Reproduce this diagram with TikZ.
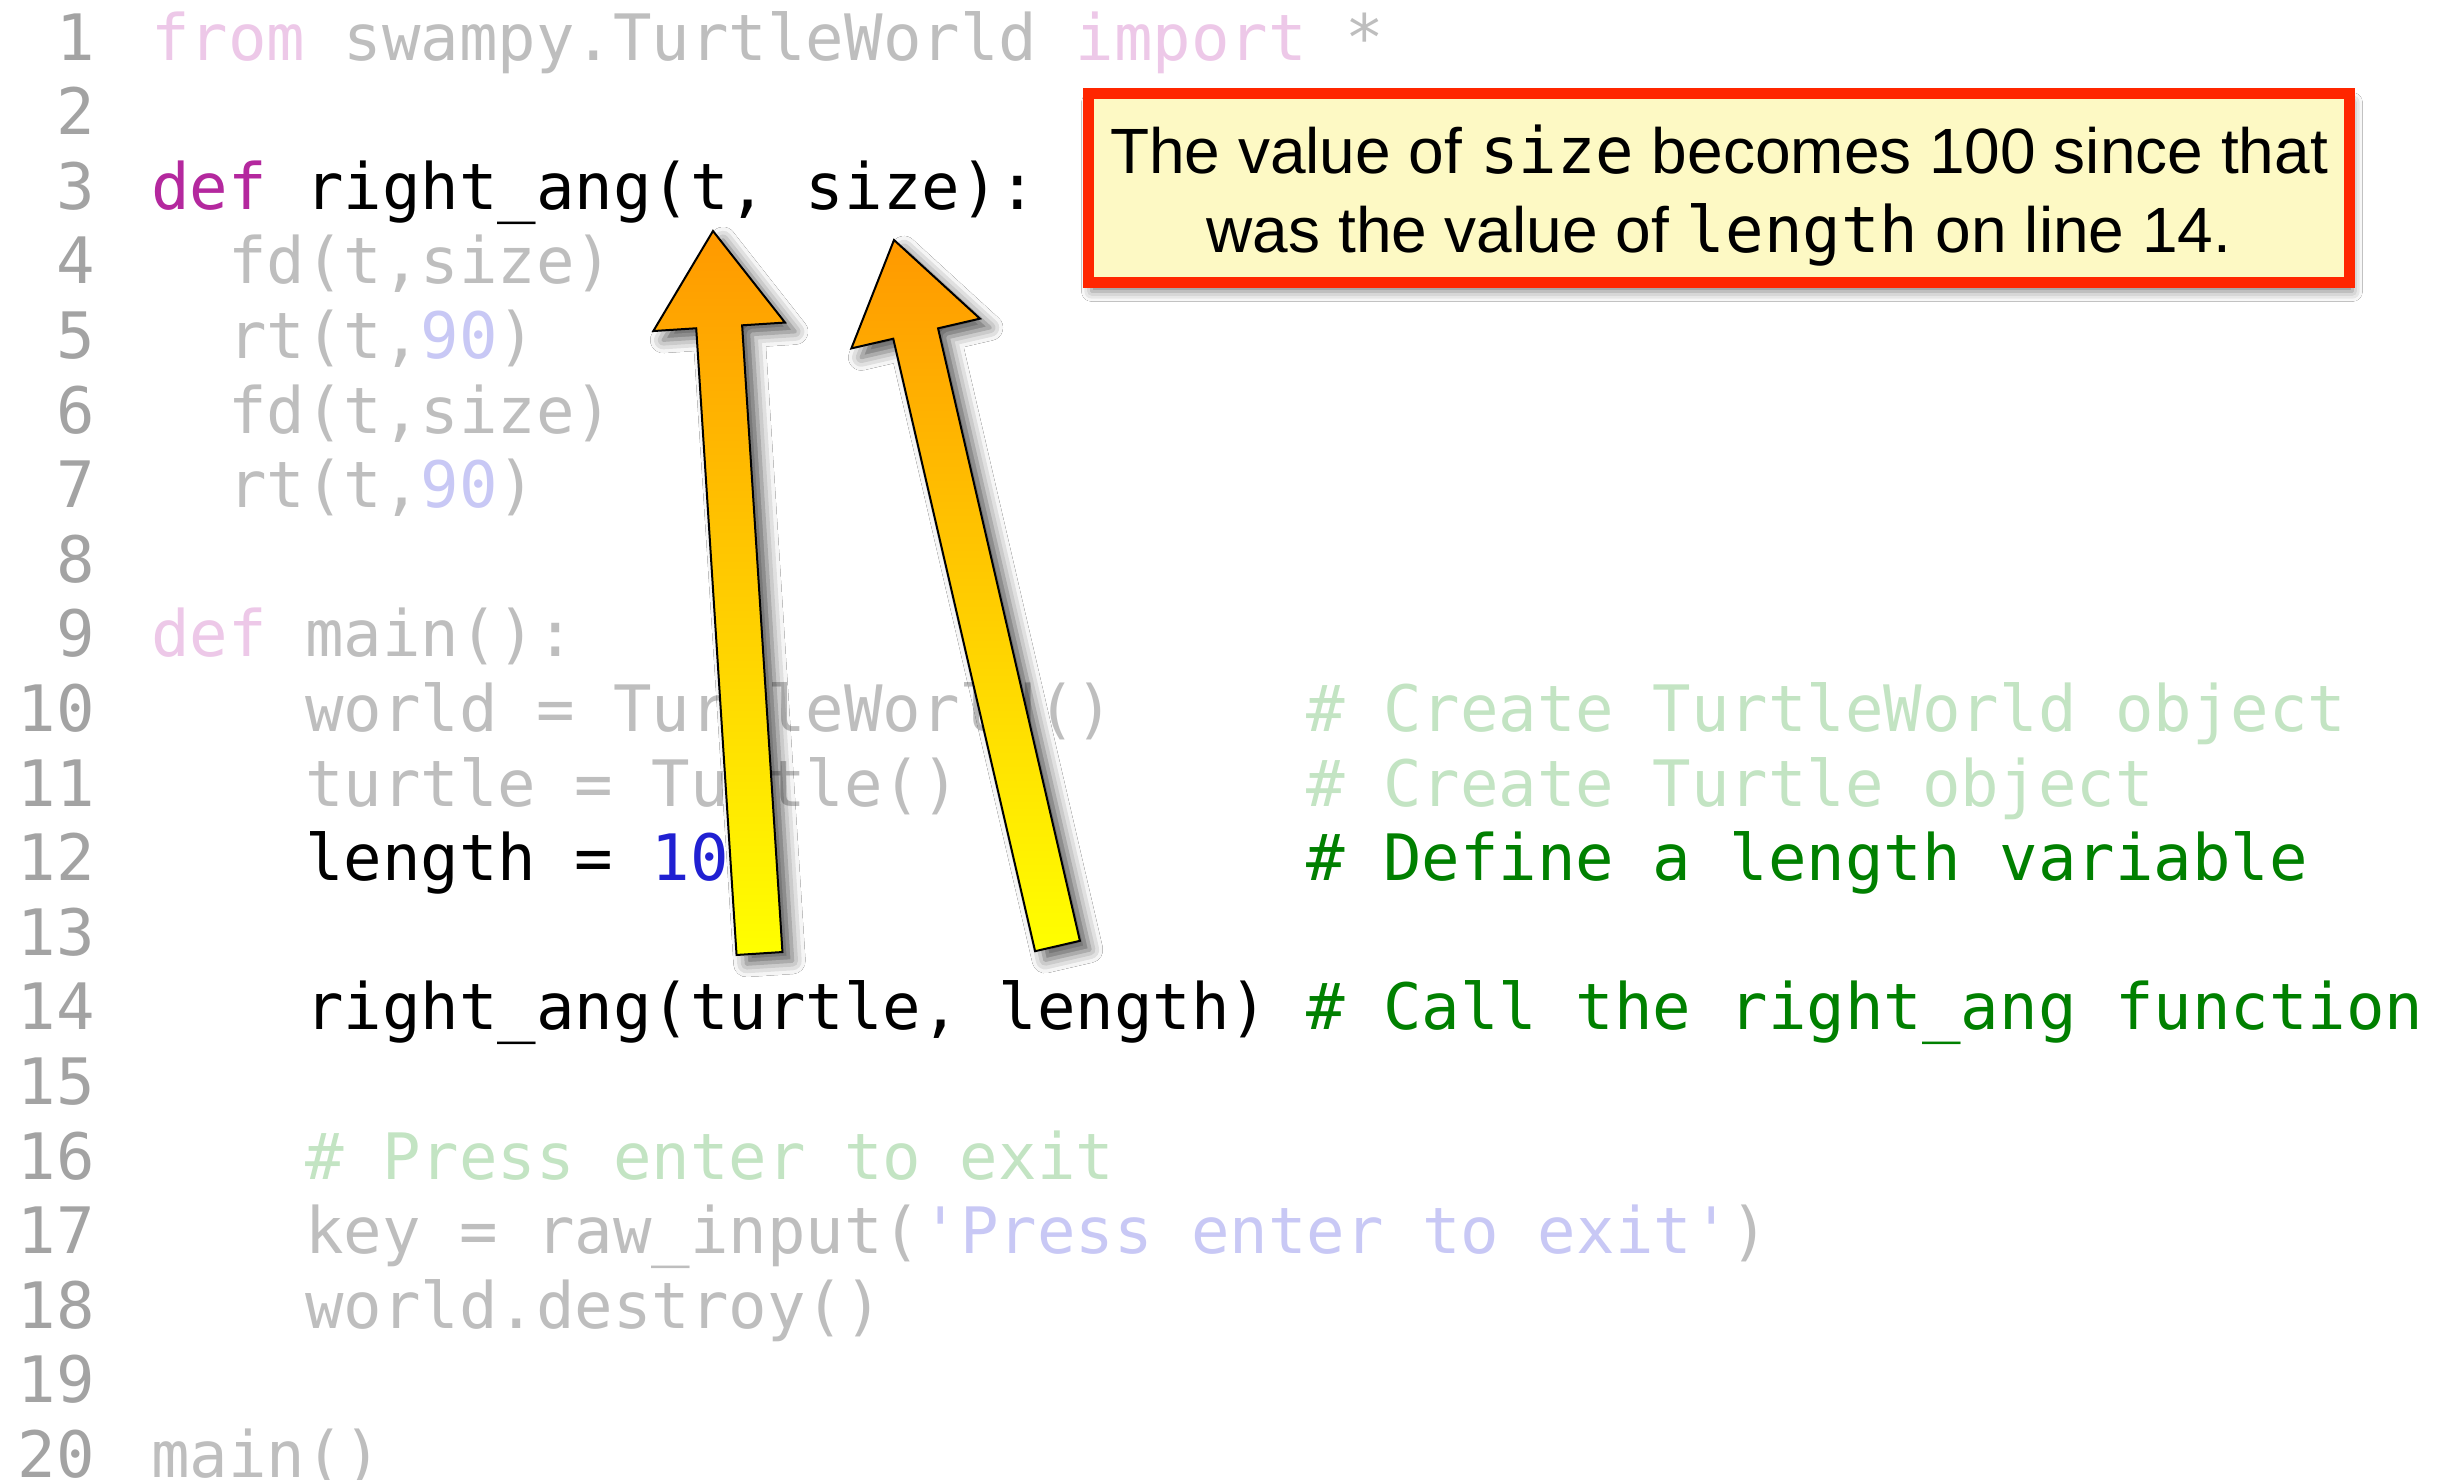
\documentclass[tikz,border=0pt]{standalone}
\usepackage{fontspec}
\setmainfont{Liberation Sans}
\newfontfamily\codefont{DejaVu Sans Mono}
\usetikzlibrary{calc,shadows.blur}
\definecolor{numgray}{HTML}{A3A3A3}
\definecolor{dimgray}{HTML}{BEBEBE}
\definecolor{pinkdim}{HTML}{EDC8E8}
\definecolor{kwmag}{HTML}{B4289E}
\definecolor{lav}{HTML}{C8C8F5}
\definecolor{numblue}{HTML}{2020D2}
\definecolor{cmtdim}{HTML}{C3E4C3}
\definecolor{cmtgreen}{HTML}{008000}
\definecolor{notered}{HTML}{FF2600}
\definecolor{notefill}{HTML}{FDF9C4}
\definecolor{arrtop}{HTML}{FF9900}
\definecolor{arrbot}{HTML}{FFFF00}
\begin{document}
\begin{tikzpicture}[x=1pt,y=-1pt,
  codeline/.style={anchor=base west, inner sep=0pt, outer sep=0pt, font={\codefont\fontsize{64}{64}\selectfont}},
  lnum/.style={anchor=base east, inner sep=0pt, outer sep=0pt, text=numgray, font={\codefont\fontsize{64}{64}\selectfont}},
  notebox/.style={draw=notered, line width=11pt, fill=notefill, minimum width=1261pt, minimum height=189pt, inner sep=0pt,
     blur shadow={shadow xshift=3pt, shadow yshift=-9pt, shadow blur radius=10pt, shadow opacity=50}},
  notetext/.style={anchor=base, inner sep=0pt, font={\fontsize{64}{64}\selectfont}},
  bigarrow/.style={draw=black, line width=2pt, line join=miter, top color=arrtop, bottom color=arrbot,
     blur shadow={shadow xshift=10pt, shadow yshift=-9pt, shadow blur radius=13pt, shadow opacity=65}}
]
\useasboundingbox[fill=white] (0,0) rectangle (2455,1480);
% line numbers
\foreach \n in {1,...,20} {
  \node[lnum] (N\n) at (95,{60+74.6*(\n-1)}) {\n};
}
% code lines (column c -> x = 151 + 38.5 c)
\node[codeline] (L1) at (151,60) {\color{pinkdim}from \color{dimgray}swampy.TurtleWorld \color{pinkdim}import \color{dimgray}*};
\node[codeline] (L3) at (151,{60+74.6*2}) {\color{kwmag}def \color{black}right\_ang(t, size):};
\node[codeline, text=dimgray] (L4) at ({151+38.5*2},{60+74.6*3}) {fd(t,size)};
\node[codeline, text=dimgray] (L5) at ({151+38.5*2},{60+74.6*4}) {rt(t,{\color{lav}90})};
\node[codeline, text=dimgray] (L6) at ({151+38.5*2},{60+74.6*5}) {fd(t,size)};
\node[codeline, text=dimgray] (L7) at ({151+38.5*2},{60+74.6*6}) {rt(t,{\color{lav}90})};
\node[codeline] (L9) at (151,{60+74.6*8}) {\color{pinkdim}def \color{dimgray}main():};
\node[codeline, text=dimgray] (L10) at ({151+38.5*4},{60+74.6*9}) {world = TurtleWorld()};
\node[codeline, text=cmtdim] (C10) at ({151+38.5*30},{60+74.6*9}) {\# Create TurtleWorld object};
\node[codeline, text=dimgray] (L11) at ({151+38.5*4},{60+74.6*10}) {turtle = Turtle()};
\node[codeline, text=cmtdim] (C11) at ({151+38.5*30},{60+74.6*10}) {\# Create Turtle object};
\node[codeline, text=black] (L12) at ({151+38.5*4},{60+74.6*11}) {length = {\color{numblue}10}};
\node[codeline, text=cmtgreen] (C12) at ({151+38.5*30},{60+74.6*11}) {\# Define a length variable};
\node[codeline, text=black] (L14) at ({151+38.5*4},{60+74.6*13}) {right\_ang(turtle, length)};
\node[codeline, text=cmtgreen] (C14) at ({151+38.5*30},{60+74.6*13}) {\# Call the right\_ang function};
\node[codeline, text=cmtdim] (L16) at ({151+38.5*4},{60+74.6*15}) {\# Press enter to exit};
\node[codeline, text=dimgray] (L17) at ({151+38.5*4},{60+74.6*16}) {key = raw\_input({\color{lav}\char"27 Press enter to exit\char"27})};
\node[codeline, text=dimgray] (L18) at ({151+38.5*4},{60+74.6*17}) {world.destroy()};
\node[codeline, text=dimgray] (L20) at (151,{60+74.6*19}) {main()};
% arrows
\coordinate (a1t) at (759.5,953.5);
\coordinate (a1h) at (713,231);
\coordinate (a2t) at (1057.5,946);
\coordinate (a2h) at (894,240);
\coordinate (a1b) at ($(a1h)!96pt!(a1t)$);
\coordinate (a2b) at ($(a2h)!96pt!(a2t)$);
\path[bigarrow] ($(a1t)!23pt!90:(a1h)$) -- ($(a1b)!23pt!90:(a1h)$) -- ($(a1b)!66pt!90:(a1h)$) -- (a1h)
  -- ($(a1b)!66pt!-90:(a1h)$) -- ($(a1b)!23pt!-90:(a1h)$) -- ($(a1t)!23pt!-90:(a1h)$) -- cycle;
\path[bigarrow] ($(a2t)!23pt!90:(a2h)$) -- ($(a2b)!23pt!90:(a2h)$) -- ($(a2b)!66pt!90:(a2h)$) -- (a2h)
  -- ($(a2b)!66pt!-90:(a2h)$) -- ($(a2b)!23pt!-90:(a2h)$) -- ($(a2t)!23pt!-90:(a2h)$) -- cycle;
% callout
\node[notebox] (note) at (1719,188) {};
\node[notetext] (note1) at (1719,173) {The value of {\codefont size} becomes 100 since that};
\node[notetext] (note2) at (1719,252) {was the value of {\codefont length} on line 14.};
\end{tikzpicture}
\end{document}
